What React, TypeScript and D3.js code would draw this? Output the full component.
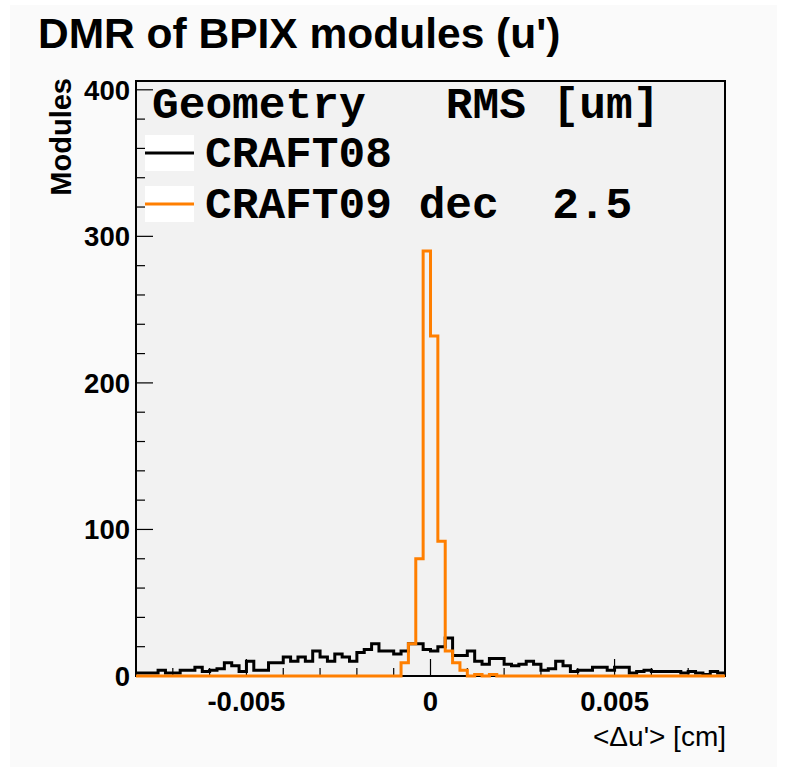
import React from "react";
import * as d3 from "d3";

// Histogram binning: 80 bins over [-0.008, 0.008] cm
const xMin = -0.008;
const xMax = 0.008;
const nBins = 80;

// Module counts per bin
const craft08Counts = [
  2, 2, 2, 4, 2, 2, 4, 4, 6, 3,
  4, 5, 9, 7, 3, 10, 4, 4, 9, 9,
  13, 10, 13, 10, 17, 13, 10, 15, 13, 10,
  16, 18, 22, 17, 17, 15, 17, 22, 22, 18,
  17, 20, 26, 14, 14, 17, 10, 8, 12, 12,
  8, 7, 8, 10, 8, 4, 5, 10, 7, 3,
  4, 4, 6, 6, 4, 6, 6, 2, 3, 4,
  3, 3, 3, 3, 2, 3, 2, 1, 3, 2,
];

const craft09Counts = [
  0, 0, 0, 0, 0, 0, 0, 0, 0, 0,
  0, 0, 0, 0, 0, 0, 0, 0, 0, 0,
  0, 0, 0, 0, 0, 0, 0, 0, 0, 0,
  0, 0, 0, 0, 0, 0, 9, 22, 80, 290,
  232, 92, 17, 9, 4, 0, 1, 0, 1, 0,
  0, 0, 0, 0, 0, 0, 0, 0, 0, 0,
  0, 0, 0, 0, 0, 0, 0, 0, 0, 0,
  0, 0, 0, 0, 0, 0, 0, 0, 0, 0,
];

const yMajorTicks = [0, 100, 200, 300, 400];
const xMajorTicks = [-0.005, 0, 0.005];
const xTickLabels = ["-0.005", "0", "0.005"];

const legendHeader = "Geometry   RMS [um]";
const legendEntries = [
  { label: "CRAFT08", color: "#000000" },
  { label: "CRAFT09 dec  2.5", color: "#ff7f00" },
];

const W = 787;
const H = 772;
const frame = { left: 136, right: 725, top: 81, bottom: 676 };

const sans = "'Liberation Sans', Arial, Helvetica, sans-serif";
const mono = "'Nimbus Mono PS', 'Courier New', Courier, 'Liberation Mono', monospace";

export default function App() {
  const x = d3.scaleLinear().domain([xMin, xMax]).range([frame.left, frame.right]);
  const y = d3.scaleLinear().domain([0, 406]).range([frame.bottom, frame.top]);
  const binW = (xMax - xMin) / nBins;

  const stepPath = (counts: number[]) => {
    const pts: [number, number][] = counts.map((c, i) => [xMin + i * binW, c]);
    pts.push([xMax, counts[counts.length - 1]]);
    return d3
      .line<[number, number]>()
      .x((d) => x(d[0]))
      .y((d) => y(d[1]))
      .curve(d3.curveStepAfter)(pts) as string;
  };

  const yMinor = d3.range(0, 401, 20).filter((v) => v % 100 !== 0);
  const xMinor = d3
    .range(-7, 8, 1)
    .map((k) => k * 0.001)
    .filter((v) => Math.abs(Math.abs(v) - 0.005) > 1e-9 && Math.abs(v) > 1e-9);

  return (
    <svg
      width={W}
      height={H}
      style={{ position: "absolute", left: 0, top: 0, display: "block" }}
    >
      <rect x={0} y={0} width={W} height={H} fill="#ffffff" />
      <rect x={10} y={5} width={767} height={762} fill="#fafafa" />

      {/* plot frame */}
      <rect
        x={frame.left}
        y={frame.top}
        width={frame.right - frame.left}
        height={frame.bottom - frame.top}
        fill="#f2f2f2"
        stroke="#000"
        strokeWidth={2}
      />

      {/* y axis ticks */}
      {yMajorTicks.map((v) => (
        <line key={"ym" + v} x1={frame.left} x2={frame.left + 17} y1={y(v)} y2={y(v)} stroke="#000" strokeWidth={1.2} />
      ))}
      {yMinor.map((v) => (
        <line key={"yn" + v} x1={frame.left} x2={frame.left + 9} y1={y(v)} y2={y(v)} stroke="#000" strokeWidth={1.2} />
      ))}
      {yMajorTicks.map((v) => (
        <text
          key={"yl" + v}
          x={130}
          y={y(v) + 10}
          textAnchor="end"
          fontFamily={sans}
          fontWeight="bold"
          fontSize={27.5}
        >
          {v}
        </text>
      ))}

      {/* x axis ticks */}
      {xMajorTicks.map((v) => (
        <line key={"xm" + v} x1={x(v)} x2={x(v)} y1={frame.bottom} y2={frame.bottom - 17} stroke="#000" strokeWidth={1.2} />
      ))}
      {xMinor.map((v) => (
        <line key={"xn" + v} x1={x(v)} x2={x(v)} y1={frame.bottom} y2={frame.bottom - 8} stroke="#000" strokeWidth={1.2} />
      ))}
      {xMajorTicks.map((v, i) => (
        <text
          key={"xl" + v}
          x={x(v)}
          y={711}
          textAnchor="middle"
          fontFamily={sans}
          fontWeight="bold"
          fontSize={27.5}
        >
          {xTickLabels[i]}
        </text>
      ))}

      {/* histograms */}
      <path d={stepPath(craft08Counts)} fill="none" stroke="#000" strokeWidth={3} />
      <path d={stepPath(craft09Counts)} fill="none" stroke="#ff7f00" strokeWidth={3} />

      {/* axis titles */}
      <text x={726} y={746} textAnchor="end" fontFamily={sans} fontSize={28}>
        {"<\u0394u'> [cm]"}
      </text>
      <text
        transform="translate(71,78) rotate(-90)"
        textAnchor="end"
        fontFamily={sans}
        fontWeight="bold"
        fontSize={29}
      >
        Modules
      </text>

      {/* title */}
      <text x={38} y={48} fontFamily={sans} fontWeight="bold" fontSize={42.5}>
        DMR of BPIX modules (u')
      </text>

      {/* legend */}
      <text x={152} y={118} fontFamily={mono} fontWeight="bold" fontSize={44.5} style={{ whiteSpace: "pre" }}>
        {legendHeader}
      </text>
      {legendEntries.map((e, i) => {
        const cy = 153 + i * 51;
        return (
          <g key={e.label}>
            <rect x={145} y={cy - 18} width={49} height={36} fill="#ffffff" />
            <line x1={145} x2={194} y1={cy} y2={cy} stroke={e.color} strokeWidth={3} />
            <text x={205} y={cy + 14} fontFamily={mono} fontWeight="bold" fontSize={44.5} style={{ whiteSpace: "pre" }}>
              {e.label}
            </text>
          </g>
        );
      })}
    </svg>
  );
}
